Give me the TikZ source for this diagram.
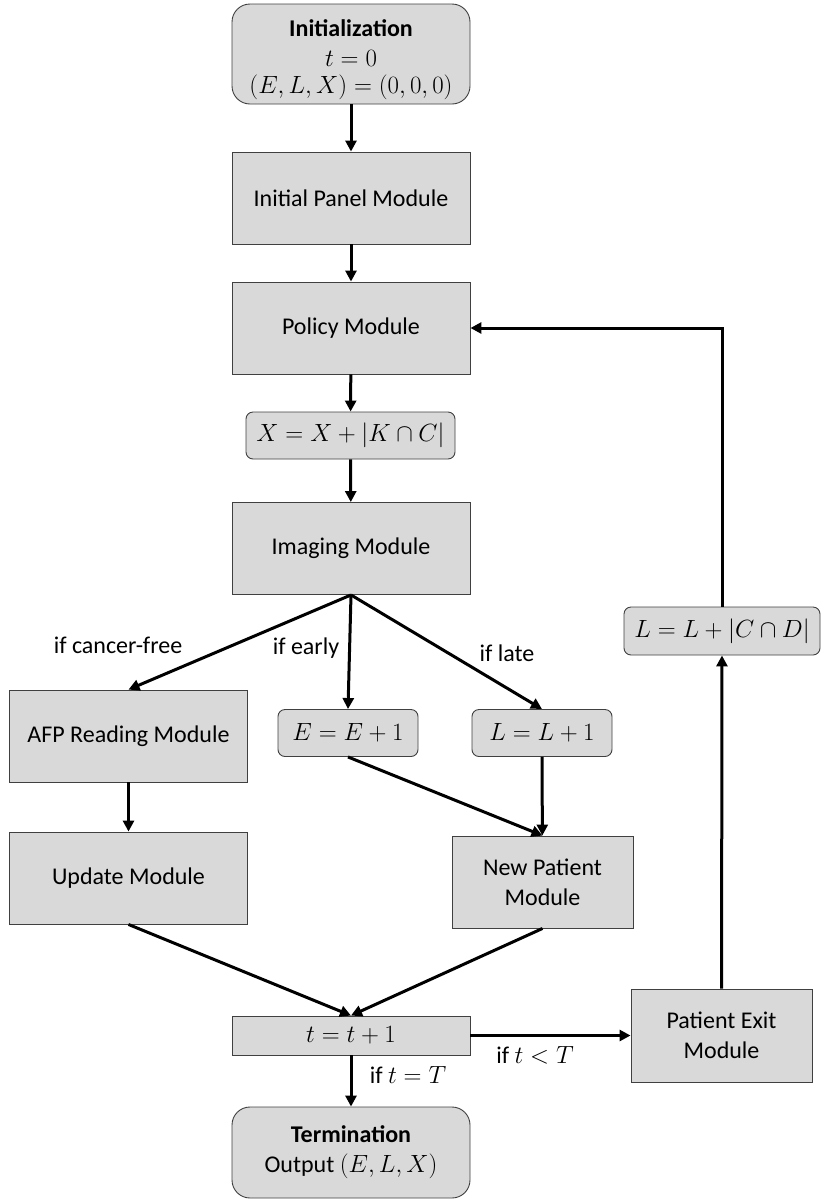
\documentclass[tikz,border=0pt]{standalone}
\usepackage{fontspec}
\setmainfont{Carlito}
\usetikzlibrary{arrows.meta}
\begin{document}
\begin{tikzpicture}[x=1pt,y=-1pt,
  font=\fontsize{24}{30}\selectfont,
  box/.style={draw=black!75, line width=0.9pt, fill=black!15, align=center, inner sep=0pt},
  module/.style={box, minimum width=238, minimum height=92},
  term/.style={box, rounded corners=18, minimum width=238, minimum height=100},
  calc/.style={box, rounded corners=7, minimum height=47},
  flow/.style={line width=3pt, -{Triangle[length=11pt,width=11pt]}},
  lab/.style={inner sep=1pt}
]
\useasboundingbox (0,0) rectangle (820,1200);

% main column
\node[term] (init) at (351,54) {};
\node[align=center, inner sep=0pt] (inittext) at (351,60) {\textbf{Initialization}\\ $t=0$\\[-3pt] $(E,L,X)=(0,0,0)$};
\node[module] (panel) at (351,198) {Initial Panel Module};
\node[module] (policy) at (351,328) {Policy Module};
\node[calc, minimum width=209] (xupd) at (350.5,435.5) {$X=X+|K\cap C|$};
\node[module] (imaging) at (351,548.5) {Imaging Module};

% branches after imaging
\node[module] (afp) at (128.5,736) {AFP Reading Module};
\node[calc, minimum width=140] (eupd) at (348,733) {$E=E+1$};
\node[calc, minimum width=140] (lupd) at (542,733) {$L=L+1$};
\node[module] (update) at (128.5,878) {Update Module};
\node[module, minimum width=181] (newpat) at (542.5,882) {New Patient\\ Module};

% time step and exits
\node[box, minimum width=238, minimum height=39] (tstep) at (351,1035.5) {$t=t+1$};
\node[term, minimum height=91] (termin) at (351,1152.5) {\textbf{Termination}\\ Output $(E,L,X)$};
\node[module, minimum width=181, minimum height=93] (exit) at (721.5,1035.5) {Patient Exit\\ Module};
\node[calc, minimum width=196, minimum height=48] (lcd) at (722,631) {$L=L+|C\cap D|$};

% connectors
\draw[flow] (init) -- (panel);
\draw[flow] (panel) -- (policy);
\draw[flow] (policy) -- (xupd);
\draw[flow] (xupd) -- (imaging);
\coordinate (split) at (imaging.south);
\draw[flow] (split) -- (afp.north);
\draw[flow] (split) -- (eupd.north);
\draw[flow] (split) -- (lupd.north);
\draw[flow] (afp) -- (update);
\draw[flow] (eupd.south) -- (newpat.north);
\draw[flow] (lupd) -- (newpat);
\draw[flow] (update.south) -- (tstep.north);
\draw[flow] (newpat.south) -- (tstep.north);
\draw[flow] (tstep) -- (termin);
\draw[flow] (tstep) -- (exit);
\draw[flow] (exit) -- (lcd);
\draw[flow] (lcd.north) |- (policy.east);

% branch labels
\node[lab] (lcf) at (118,645) {if cancer-free};
\node[lab] (lea) at (306,648) {if early};
\node[lab] (lla) at (507,653) {if late};
\node[lab] (llt) at (535,1055) {if $t<T$};
\node[lab] (leq) at (408,1075) {if $t=T$};
\end{tikzpicture}
\end{document}
